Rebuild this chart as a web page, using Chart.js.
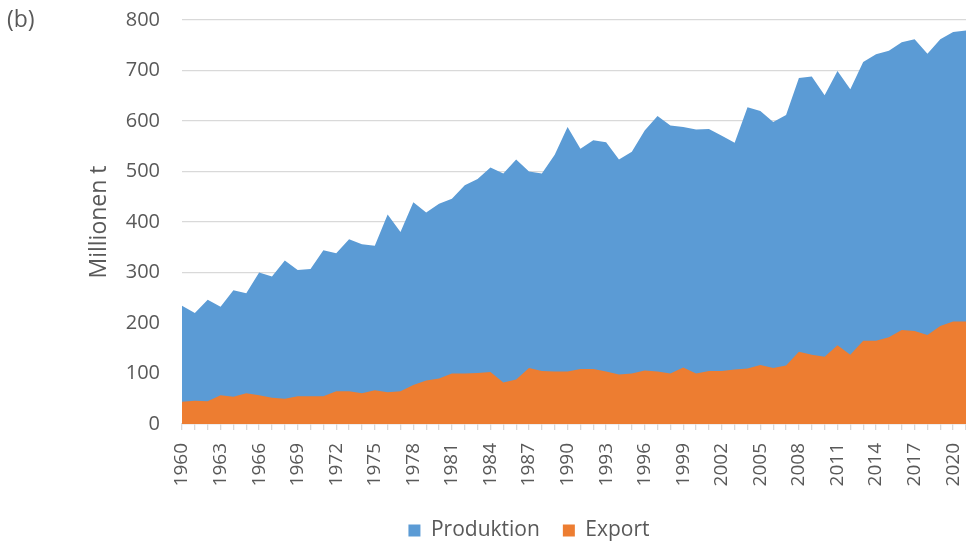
<!DOCTYPE html>
<html>
<head>
<meta charset="utf-8">
<script src="https://cdn.jsdelivr.net/npm/chart.js@4.4.1/dist/chart.umd.min.js"></script>
<style>
  html, body { margin: 0; padding: 0; background: #fff; }
  #wrap { width: 966px; height: 541px; position: relative; }
</style>
</head>
<body>
<div id="wrap"><canvas id="chart"></canvas></div>
<script>
const years = ['1960', '1961', '1962', '1963', '1964', '1965', '1966', '1967', '1968', '1969',
  '1970', '1971', '1972', '1973', '1974', '1975', '1976', '1977', '1978', '1979',
  '1980', '1981', '1982', '1983', '1984', '1985', '1986', '1987', '1988', '1989',
  '1990', '1991', '1992', '1993', '1994', '1995', '1996', '1997', '1998', '1999',
  '2000', '2001', '2002', '2003', '2004', '2005', '2006', '2007', '2008', '2009',
  '2010', '2011', '2012', '2013', '2014', '2015', '2016', '2017', '2018', '2019',
  '2020', '2021']

const produktion = [234, 220, 246, 232, 265, 259, 300, 292, 324, 305,
  307, 344, 338, 366, 356, 353, 415, 380, 439, 419,
  436, 446, 473, 485, 508, 496, 524, 500, 496, 533,
  588, 545, 562, 558, 524, 539, 581, 610, 591, 588,
  583, 584, 571, 557, 627, 620, 598, 612, 685, 688,
  651, 699, 663, 717, 732, 739, 756, 762, 733, 762,
  776, 779]

const exportMenge = [44, 46, 45, 57, 54, 61, 57, 52, 50, 55,
  55, 55, 65, 65, 61, 67, 63, 65, 77, 86,
  90, 100, 100, 101, 103, 82, 88, 111, 105, 104,
  104, 109, 109, 104, 98, 100, 106, 104, 100, 112,
  100, 105, 105, 108, 110, 117, 111, 116, 143, 137,
  133, 156, 137, 165, 165, 172, 186, 184, 176, 194,
  203, 203]

const yTicks = [0, 100, 200, 300, 400, 500, 600, 700, 800]

const textColor = '#595959'
const gridColor = '#d9d9d9'
const fontFamily = "'Open Sans', 'Noto Sans', sans-serif"

// shifts the legend and writes the panel letter
const layoutHelper = {
  id: 'layoutHelper',
  afterLayout (chart) {
    const legend = chart.legend
    legend.left += 46
    legend.right += 46
    legend.top += 10
    legend.bottom += 10
  },
  afterDraw (chart) {
    const ctx = chart.ctx
    ctx.save()
    ctx.font = `23px ${fontFamily}`
    ctx.fillStyle = textColor
    ctx.textBaseline = 'middle'
    ctx.textAlign = 'left'
    ctx.fillText('(b)', 7, 20)
    ctx.restore()
  }
}

const chart = new Chart(document.querySelector('#chart'), {
  type: 'line',
  data: {
    labels: years,
    datasets: [
      {
        label: 'Produktion',
        data: produktion,
        backgroundColor: '#5b9bd5',
        borderWidth: 0,
        pointRadius: 0,
        fill: 'origin',
        tension: 0,
        order: 1
      },
      {
        label: 'Export',
        data: exportMenge,
        backgroundColor: '#ed7d31',
        borderWidth: 0,
        pointRadius: 0,
        fill: 'origin',
        tension: 0,
        order: 0
      }
    ]
  },
  options: {
    responsive: true,
    maintainAspectRatio: false,
    animation: false,
    layout: { padding: { top: 20, left: 0, right: 0, bottom: 0 } },
    plugins: {
      legend: {
        position: 'bottom',
        labels: {
          boxWidth: 12,
          boxHeight: 12,
          padding: 23,
          color: textColor,
          font: { family: fontFamily, size: 21 },
          sort: (a, b) => a.datasetIndex - b.datasetIndex
        }
      },
      tooltip: { enabled: false }
    },
    scales: {
      x: {
        offset: false,
        grid: { drawOnChartArea: false, drawTicks: true, tickLength: 6, color: gridColor, lineWidth: 1.3 },
        border: { color: gridColor, width: 1.3 },
        ticks: {
          autoSkip: false,
          minRotation: 90,
          maxRotation: 90,
          padding: 13,
          color: textColor,
          font: { family: fontFamily, size: 19 },
          callback: (value, index) => index % 3 === 0 ? years[index] : ''
        },
        afterFit: (scale) => {
          scale.paddingLeft = 0
          scale.paddingRight = 0
          scale.height = 541 - 424 - scale.chart.legend.height
        }
      },
      y: {
        min: 0,
        max: 800,
        afterBuildTicks: (scale) => { scale.ticks = yTicks.map(v => ({ value: v })) },
        grid: { drawTicks: false, color: gridColor, lineWidth: 1.3 },
        border: { display: false },
        ticks: {
          padding: 22,
          color: textColor,
          font: { family: fontFamily, size: 20 }
        },
        title: {
          display: true,
          text: 'Millionen t',
          color: textColor,
          font: { family: fontFamily, size: 23 },
          padding: { top: 86, bottom: 0 }
        },
        afterFit: (scale) => {
          scale.width = 182
          scale.paddingTop = 0
          scale.paddingBottom = 0
        }
      }
    }
  },
  plugins: [layoutHelper]
})
</script>
</body>
</html>
